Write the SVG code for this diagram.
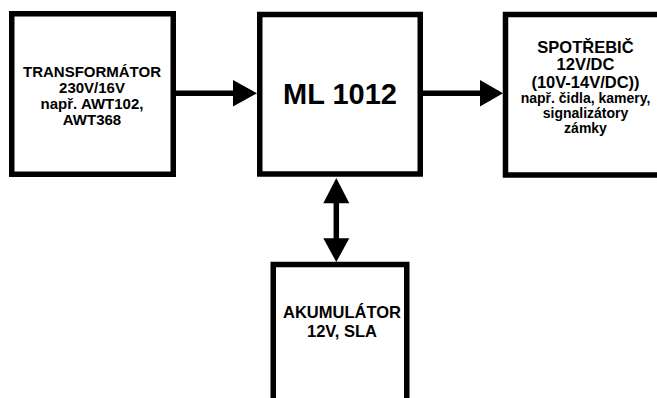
<svg xmlns="http://www.w3.org/2000/svg" width="657" height="398" viewBox="0 0 657 398">
<defs>
<style>
.box{fill:#fff;stroke:#000;stroke-width:5.5}
.ln{stroke:#000;stroke-width:5.5;fill:none}
.hd{fill:#000}
text{font-family:"Liberation Sans",Arial,sans-serif;font-weight:bold;fill:#000;text-anchor:middle}
</style>
</defs>
<rect width="657" height="398" fill="#fff"/>
<g id="connectors">
<line class="ln" x1="176" y1="93.3" x2="236" y2="93.3"/>
<polygon class="hd" points="233,80 257,93.3 233,106.6"/>
<line class="ln" x1="423" y1="93.3" x2="482" y2="93.3"/>
<polygon class="hd" points="480,80 503,93.3 480,106.6"/>
<line class="ln" x1="336.3" y1="200" x2="336.3" y2="241"/>
<polygon class="hd" points="336.3,178 349.3,203.3 323.3,203.3"/>
<polygon class="hd" points="323.3,238.3 349.3,238.3 336.3,262"/>
</g>
<g id="transformator">
<rect class="box" x="11.75" y="13.75" width="161.5" height="160.5"/>
<text font-size="15"><tspan x="92" y="76.7">TRANSFORMÁTOR</tspan><tspan x="92" y="93">230V/16V</tspan><tspan x="92" y="109">např. AWT102,</tspan><tspan x="92" y="125">AWT368</tspan></text>
</g>
<g id="ml1012">
<rect class="box" x="259.75" y="14.5" width="160.5" height="159.5"/>
<text font-size="29" x="340" y="104.3">ML 1012</text>
</g>
<g id="spotrebic">
<rect class="box" x="505.5" y="14.5" width="161" height="160.5"/>
<text><tspan font-size="16.5" x="585.5" y="52.5">SPOTŘEBIČ</tspan><tspan font-size="16.5" x="585.5" y="70">12V/DC</tspan><tspan font-size="16.5" x="585.5" y="87.5">(10V-14V/DC))</tspan><tspan font-size="14" x="585.5" y="103">např. čidla, kamery,</tspan><tspan font-size="14" x="585.5" y="118">signalizátory</tspan><tspan font-size="14" x="585.5" y="133">zámky</tspan></text>
</g>
<g id="akumulator">
<rect class="box" x="273.25" y="264.5" width="133.5" height="160"/>
<text font-size="16.5"><tspan x="342" y="318.3">AKUMULÁTOR</tspan><tspan x="342" y="336.7">12V, SLA</tspan></text>
</g>
</svg>
